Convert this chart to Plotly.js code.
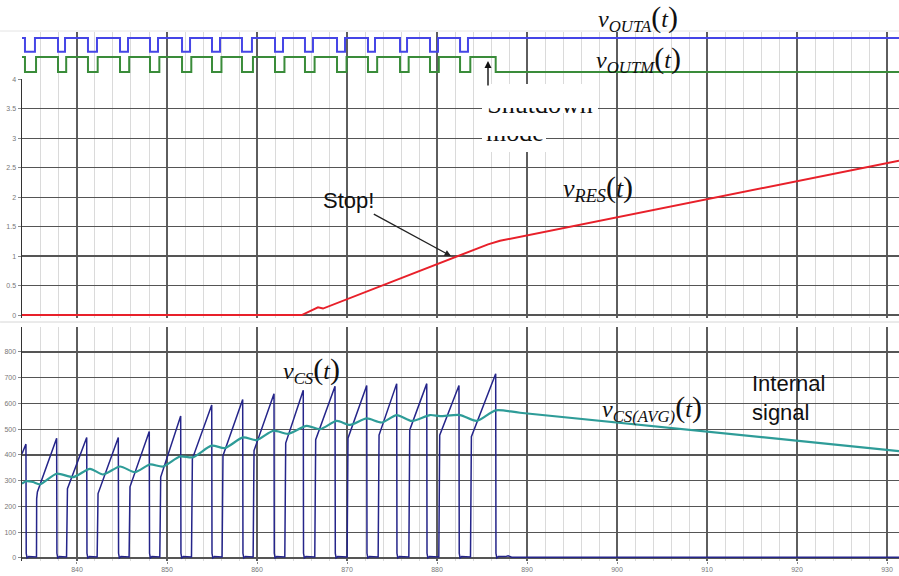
<!DOCTYPE html>
<html>
<head>
<meta charset="utf-8">
<script src="https://cdn.plot.ly/plotly-3.0.1.min.js"></script>
<style>html,body{margin:0;padding:0;background:#fff;}</style>
</head>
<body>
<div id="chart" style="width:899px;height:576px;"></div>
<script>
// ---------------- DATA ----------------
const xStart = 833.89, xEnd = 931.33;

// v_RES(t) – middle panel
const resT = [833.89, 864.97, 866.78, 867.33, 885.67, 887.0, 931.33];
const resV = [0, 0, 0.13, 0.11, 1.2, 1.26, 2.62];

// v_CS(t) – sawtooth current sense, bottom panel
const csFirstV = 405;
const csPeakT = [834.33, 837.74, 841.08, 844.59, 848.03, 851.52, 854.97, 858.41, 861.89, 865.14, 868.67, 872.19, 875.52, 878.86, 882.44, 886.52];
const csPeakV = [442, 465, 468, 468, 491, 551, 594, 615, 638, 651, 667, 670, 677, 677, 670, 715];
const csRiseT = [835.52, 838.86, 842.26, 845.81, 849.22, 852.74, 856.14, 859.59, 863.11, 866.44, 870.03, 873.48, 876.89, 880.22, 883.74];
const csRiseV = [256, 269, 250, 276, 314, 385, 397, 417, 446, 459, 465, 477, 497, 477, 471];
const csLowV = 5;
const csBlipV = 18;

// v_CS(AVG)(t) – internal averaged signal
const avgT = [833.89, 834.33, 835.11, 835.89, 837.74, 839.59, 841.44, 842.89, 844.78, 846.44, 848.11, 849.56, 851.44, 852.89, 854.97, 856.44, 858.44, 859.97, 861.81, 863.48, 865.52, 867.0, 868.86, 870.33, 872.19, 873.86, 875.52, 877.19, 879.22, 880.33, 882.56, 884.41, 886.52, 889.22, 931.33];
const avgV = [288, 298, 295, 286, 327, 314, 346, 324, 355, 333, 363, 355, 394, 391, 436, 427, 468, 458, 494, 482, 513, 500, 532, 517, 542, 526, 555, 532, 555, 551, 555, 532, 573, 564, 415];

// digital gate signals: low intervals
const outaLowStart = [834.22, 837.89, 841.22, 844.78, 848.11, 851.67, 855.0, 858.33, 862.0, 865.33, 868.89, 872.33, 875.89, 879.22, 882.56];
const outaLowEnd   = [835.33, 838.67, 842.22, 845.67, 849.0, 852.56, 855.89, 859.44, 862.89, 866.22, 869.78, 873.11, 876.67, 880.11, 883.44];
const outmLowStart = [834.22, 837.89, 841.22, 844.78, 848.11, 851.67, 855.0, 858.33, 862.0, 865.33, 868.89, 872.33, 875.89, 879.22, 882.56];
const outmLowEnd   = [835.45, 838.8, 842.3, 845.8, 849.15, 852.7, 856.05, 859.55, 863.05, 866.4, 869.95, 873.35, 876.85, 880.2, 883.7];
const outmShutdownT = 886.52;

// axis ticks
const xTicks = [840, 850, 860, 870, 880, 890, 900, 910, 920, 930];

// ---------------- build traces ----------------
const csX = [xStart], csY = [csFirstV];
for (let i = 0; i < csPeakT.length; i++) {
  csX.push(csPeakT[i]); csY.push(csPeakV[i]);
  csX.push(csPeakT[i] + 0.03); csY.push(csBlipV);
  csX.push(csPeakT[i] + 0.12); csY.push(0);
  csX.push(csPeakT[i] + 0.3); csY.push(csLowV);
  if (i < csRiseT.length) {
    csX.push(csRiseT[i] - 0.02); csY.push(csLowV - 1);
    csX.push(csRiseT[i]); csY.push(csRiseV[i] * 0.9);
    csX.push(csRiseT[i] + 0.08); csY.push(csRiseV[i]);
  }
}
csX.push(887.6); csY.push(csLowV);
csX.push(887.9); csY.push(csLowV + 3);
csX.push(888.3); csY.push(csLowV - 2);
csX.push(xEnd); csY.push(csLowV - 2);

const HI_A = 8.9, LO_A = 5.9, HI_M = 4.8, LO_M = 1.5;
function buildDigital(starts, ends, hi, lo, finalLowT) {
  const xs = [xStart], ys = [hi];
  for (let i = 0; i < starts.length; i++) {
    xs.push(starts[i]); ys.push(lo);
    xs.push(ends[i]); ys.push(hi);
  }
  if (finalLowT !== undefined) { xs.push(finalLowT); ys.push(lo); xs.push(xEnd); ys.push(lo); }
  else { xs.push(xEnd); ys.push(hi); }
  return {xs, ys};
}
const dA = buildDigital(outaLowStart, outaLowEnd, HI_A, LO_A);
const dM = buildDigital(outmLowStart, outmLowEnd, HI_M, LO_M, outmShutdownT);

const traces = [
  {x: dA.xs, y: dA.ys, yaxis: 'y3', mode: 'lines', line: {color: '#4646e6', width: 2, shape: 'hv'}},
  {x: dM.xs, y: dM.ys, yaxis: 'y3', mode: 'lines', line: {color: '#3a8c3a', width: 2, shape: 'hv'}},
  {x: resT, y: resV, yaxis: 'y2', mode: 'lines', line: {color: '#e8202a', width: 2}},
  {x: csX, y: csY, yaxis: 'y', mode: 'lines', line: {color: '#25258a', width: 1.5}},
  {x: avgT, y: avgV, yaxis: 'y', mode: 'lines', line: {color: '#2e9c98', width: 2.2, shape: 'spline', smoothing: 0.7}}
];

// ---------------- layout helpers ----------------
const L = 22, PW = 877, PH = 561;
const px = v => (v - L) / PW;
const py = v => (PH - v) / PH;

const tickFont = {family: 'Liberation Sans, Arial', size: 7, color: '#777'};
const serif = 'Liberation Serif, Times New Roman, serif';
const sans = 'Liberation Sans, Arial';
function vLabel(sub) {
  return '<i>v</i><sub><i>' + sub + '</i></sub><span style="font-size:30px">(</span><i>t</i><span style="font-size:30px">)</span>';
}
function lab(x, y, text, size, family, extra) {
  return Object.assign({xref: 'paper', yref: 'paper', x: px(x), y: py(y), xanchor: 'center', yanchor: 'middle',
    text: text, showarrow: false, font: {family: family, size: size, color: '#111'}}, extra || {});
}

const annotations = [
  lab(638, 18, vLabel('OUTA'), 24, serif),
  lab(638, 59, vLabel('OUTM'), 24, serif),
  lab(598, 188, vLabel('RES'), 26, serif),
  lab(311, 370, vLabel('CS'), 24, serif),
  lab(652, 408, vLabel('CS(AVG)'), 24, serif),
  lab(750, 398, 'Internal<br>signal', 22, sans, {xanchor: 'left', align: 'left'}),
  {xref: 'x', yref: 'y2', x: 881.56, y: 1.0, ax: -103, ay: -56, text: 'Stop!', showarrow: true, arrowhead: 2, arrowsize: 1, arrowwidth: 1.3, arrowcolor: '#222', font: {family: sans, size: 22, color: '#111'}},
  {xref: 'paper', yref: 'paper', x: px(488), y: py(61), ax: 0, ay: 26, text: '', showarrow: true, arrowhead: 2, arrowsize: 1, arrowwidth: 1.4, arrowcolor: '#111'},
  // "Shutdown mode" caption, mostly hidden: only the bottom strip of each line shows
  lab(540, 107, 'Shutdown', 26, serif, {yanchor: 'top', width: 114, height: 11, valign: 'bottom', borderpad: 0}),
  lab(515, 135, 'mode', 26, serif, {yanchor: 'top', width: 62, height: 11, valign: 'bottom', borderpad: 0})
];

const shapes = [
  {type: 'rect', xref: 'paper', yref: 'paper', x0: px(482), x1: px(598), y0: py(84), y1: py(113), fillcolor: '#fff', line: {width: 0}, layer: 'above'},
  {type: 'rect', xref: 'paper', yref: 'paper', x0: px(482), x1: px(546), y0: py(113), y1: py(152), fillcolor: '#fff', line: {width: 0}, layer: 'above'},
  {type: 'line', xref: 'paper', yref: 'paper', x0: -0.025, x1: 1, y0: py(322), y1: py(322), line: {color: '#d6d6d6', width: 1}},
  {type: 'line', xref: 'paper', yref: 'paper', x0: -0.025, x1: 1, y0: py(31), y1: py(31), line: {color: '#e4e4e4', width: 1}}
];

const layout = {
  width: 899, height: 576,
  margin: {l: L, r: 0, t: 0, b: 15, pad: 0},
  paper_bgcolor: '#fff', plot_bgcolor: '#fff',
  showlegend: false,
  font: {family: sans, color: '#333'},
  xaxis: {
    range: [xStart, xEnd], tickvals: xTicks, ticktext: xTicks.map(String),
    showgrid: true, gridcolor: '#5e5e5e', gridwidth: 1.2,
    minor: {dtick: 2, tick0: 840, showgrid: true, gridcolor: '#dadada', gridwidth: 1},
    zeroline: false, showline: false, ticks: 'outside', ticklen: 2, tickcolor: '#888',
    tickfont: tickFont, anchor: 'y'
  },
  yaxis: {
    domain: [0, py(327)], range: [-12, 897], dtick: 100, tick0: 0,
    showgrid: true, gridcolor: '#555', gridwidth: 1.3, zeroline: false,
    showline: true, linecolor: '#333', linewidth: 1.5,
    ticks: 'outside', ticklen: 3, tickcolor: '#888', tickfont: tickFont
  },
  yaxis2: {
    domain: [py(318), py(79)], range: [-0.05, 4.005], dtick: 0.5, tick0: 0,
    showgrid: true, gridcolor: '#555', gridwidth: 1.3, zeroline: false,
    showline: true, linecolor: '#333', linewidth: 1.5, anchor: 'x',
    ticks: 'outside', ticklen: 3, tickcolor: '#888', tickfont: tickFont
  },
  yaxis3: {
    domain: [py(79), py(32)], range: [0, 10.2], showgrid: false, zeroline: false,
    showticklabels: false, showline: false, ticks: '', anchor: 'x'
  },
  annotations: annotations,
  shapes: shapes
};

Plotly.newPlot('chart', traces, layout, {displayModeBar: false, staticPlot: true});
</script>
</body>
</html>
